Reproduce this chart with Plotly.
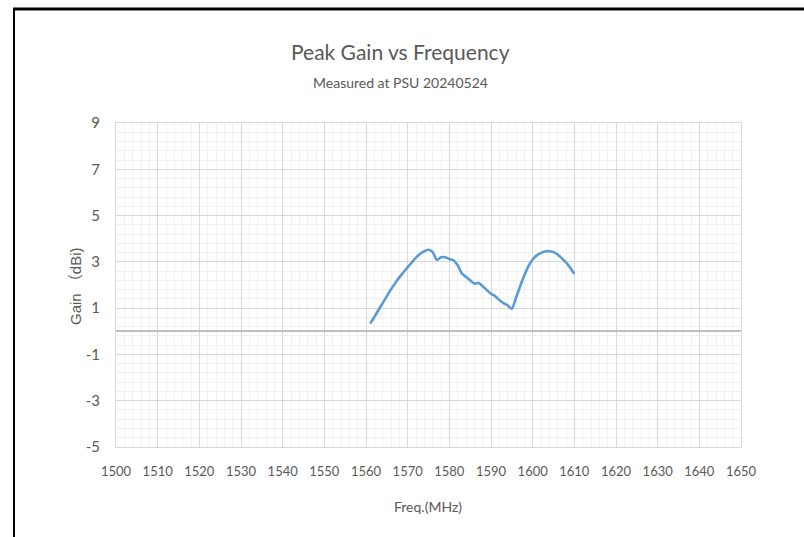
import plotly.graph_objects as go

freq_mhz = list(range(1561, 1611))
gain_dbi = [0.33, 0.62, 0.92, 1.22, 1.52, 1.82, 2.08, 2.33, 2.55, 2.77,
            2.98, 3.18, 3.35, 3.46, 3.52, 3.42, 3.08, 3.20, 3.20, 3.12,
            3.07, 2.85, 2.50, 2.35, 2.20, 2.06, 2.10, 1.95, 1.78, 1.62,
            1.52, 1.35, 1.22, 1.12, 0.97, 1.45, 1.95, 2.42, 2.82, 3.10,
            3.28, 3.39, 3.45, 3.46, 3.42, 3.32, 3.15, 2.98, 2.75, 2.48]

x_ticks = list(range(1500, 1651, 10))
y_ticks = list(range(-5, 10, 2))

W, H = 804, 537
ML, MR, MT, MB = 116, 63, 123, 90
PW, PH = W - ML - MR, H - MT - MB

def px(x):
    return (x - ML) / PW

def py(y):
    return (H - MB - y) / PH

fig = go.Figure()
fig.add_trace(go.Scatter(
    x=freq_mhz, y=gain_dbi, mode="lines",
    line=dict(color="#5B9BD5", width=2.6, shape="spline", smoothing=0.6),
    showlegend=False, hoverinfo="skip"))

font_main = "Lato, 'Open Sans', sans-serif"
grey = "#595959"

fig.update_layout(
    width=W, height=H,
    margin=dict(l=ML, r=MR, t=MT, b=MB),
    paper_bgcolor="white", plot_bgcolor="white",
    font=dict(family=font_main, color=grey, size=13),
    xaxis=dict(
        range=[1500, 1650], tickmode="array", tickvals=x_ticks,
        ticktext=[str(v) for v in x_ticks],
        showgrid=True, gridcolor="#D9D9D9", gridwidth=1,
        minor=dict(dtick=2, tick0=1500, showgrid=True, gridcolor="#F0F0F0", gridwidth=1),
        showline=True, linecolor="#D9D9D9", linewidth=1, mirror=True,
        zeroline=False, ticks="", ticklen=0, ticklabelstandoff=12,
        tickfont=dict(size=13, color=grey, family=font_main)),
    yaxis=dict(
        range=[-5, 9], tickmode="array", tickvals=y_ticks,
        ticktext=[str(v) for v in y_ticks],
        showgrid=True, gridcolor="#D9D9D9", gridwidth=1,
        minor=dict(dtick=0.4, tick0=-5, showgrid=True, gridcolor="#F0F0F0", gridwidth=1),
        showline=True, linecolor="#D9D9D9", linewidth=1, mirror=True,
        zeroline=True, zerolinecolor="#BFBFBF", zerolinewidth=1.5,
        ticks="", ticklen=0, ticklabelstandoff=12,
        tickfont=dict(size=15, color=grey, family=font_main)),
)

annotations = [
    dict(text="Peak Gain vs Frequency", x=px(400), y=py(52), size=21, family=font_main, angle=0),
    dict(text="Measured at PSU 20240524", x=px(400), y=py(82), size=14, family=font_main, angle=0),
    dict(text="Freq.(MHz)", x=px(428), y=py(506), size=14, family=font_main, angle=0),
    dict(text="Gain （dBi)", x=px(75), y=py(286), size=15,
         family="'Liberation Sans', Arial, 'Noto Sans CJK SC', sans-serif", angle=-90),
]
for a in annotations:
    fig.add_annotation(text=a["text"], xref="paper", yref="paper", x=a["x"], y=a["y"],
                       xanchor="center", yanchor="middle", showarrow=False,
                       textangle=a["angle"], font=dict(size=a["size"], color=grey, family=a["family"]))

fig.add_shape(type="line", xref="paper", yref="paper",
              x0=px(13), x1=px(W + 2), y0=py(9), y1=py(9),
              line=dict(color="black", width=3))
fig.add_shape(type="line", xref="paper", yref="paper",
              x0=px(14), x1=px(14), y0=py(8), y1=py(H + 2),
              line=dict(color="black", width=2))

fig.write_html("out.html", config={"displayModeBar": False},
               post_script="document.body.style.margin='0';document.body.style.overflow='hidden';")
